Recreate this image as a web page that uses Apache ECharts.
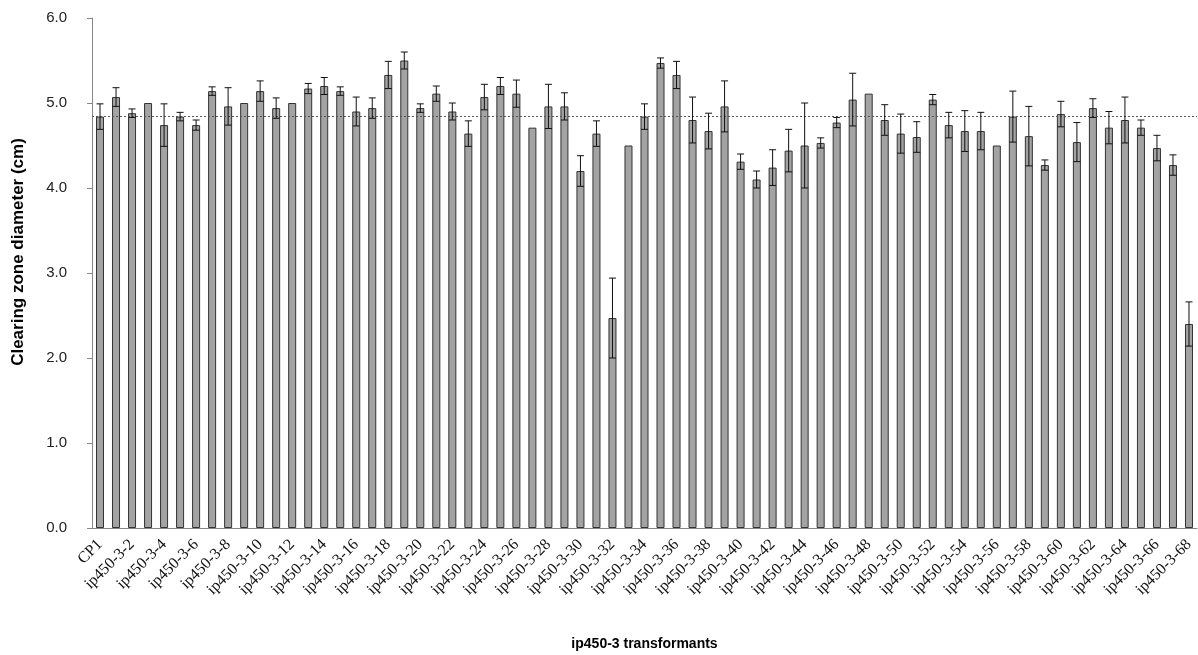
<!DOCTYPE html>
<html>
<head>
<meta charset="utf-8">
<script src="https://cdn.jsdelivr.net/npm/echarts@6/dist/echarts.min.js"></script>
<style>
  html, body { margin: 0; padding: 0; background: #fff; }
  #chart { width: 1198px; height: 655px; }
</style>
</head>
<body>
<div id="chart"></div>
<script>
const categories = [
  'CP1','ip450-3-1','ip450-3-2','ip450-3-3','ip450-3-4','ip450-3-5','ip450-3-6','ip450-3-7','ip450-3-8','ip450-3-9',
  'ip450-3-10','ip450-3-11','ip450-3-12','ip450-3-13','ip450-3-14','ip450-3-15','ip450-3-16','ip450-3-17','ip450-3-18','ip450-3-19',
  'ip450-3-20','ip450-3-21','ip450-3-22','ip450-3-23','ip450-3-24','ip450-3-25','ip450-3-26','ip450-3-27','ip450-3-28','ip450-3-29',
  'ip450-3-30','ip450-3-31','ip450-3-32','ip450-3-33','ip450-3-34','ip450-3-35','ip450-3-36','ip450-3-37','ip450-3-38','ip450-3-39',
  'ip450-3-40','ip450-3-41','ip450-3-42','ip450-3-43','ip450-3-44','ip450-3-45','ip450-3-46','ip450-3-47','ip450-3-48','ip450-3-49',
  'ip450-3-50','ip450-3-51','ip450-3-52','ip450-3-53','ip450-3-54','ip450-3-55','ip450-3-56','ip450-3-57','ip450-3-58','ip450-3-59',
  'ip450-3-60','ip450-3-61','ip450-3-62','ip450-3-63','ip450-3-64','ip450-3-65','ip450-3-66','ip450-3-67','ip450-3-68'
];
const means = [
  4.84, 5.07, 4.88, 5.00, 4.74, 4.84, 4.74, 5.14, 4.96, 5.00,
  5.14, 4.94, 5.00, 5.17, 5.20, 5.14, 4.90, 4.94, 5.33, 5.50,
  4.94, 5.11, 4.90, 4.64, 5.07, 5.20, 5.11, 4.71, 4.96, 4.96,
  4.20, 4.64, 2.47, 4.50, 4.84, 5.47, 5.33, 4.80, 4.67, 4.96,
  4.31, 4.10, 4.24, 4.44, 4.50, 4.53, 4.77, 5.04, 5.11, 4.80,
  4.64, 4.60, 5.04, 4.74, 4.67, 4.67, 4.50, 4.84, 4.61, 4.27,
  4.87, 4.54, 4.94, 4.71, 4.80, 4.71, 4.47, 4.27, 2.40
];
const errors = [
  0.15, 0.11, 0.05, null, 0.25, 0.05, 0.06, 0.05, 0.22, null,
  0.12, 0.12, null, 0.06, 0.10, 0.05, 0.17, 0.12, 0.16, 0.10,
  0.05, 0.09, 0.10, 0.15, 0.15, 0.10, 0.16, null, 0.26, 0.16,
  0.18, 0.15, 0.47, null, 0.15, 0.06, 0.16, 0.27, 0.21, 0.30,
  0.09, 0.10, 0.21, 0.25, 0.50, 0.06, 0.06, 0.31, null, 0.18,
  0.23, 0.18, 0.06, 0.15, 0.24, 0.22, null, 0.30, 0.35, 0.06,
  0.15, 0.23, 0.11, 0.19, 0.27, 0.09, 0.15, 0.12, 0.26
];
const referenceValue = 4.84;
const yTicks = [0, 1, 2, 3, 4, 5, 6];
const xTitle = 'ip450-3 transformants';
const yTitle = 'Clearing zone diameter (cm)';

const errData = [];
for (let i = 0; i < means.length; i++) {
  if (errors[i] != null) errData.push([i, means[i] - errors[i], means[i] + errors[i]]);
}

const chart = echarts.init(document.getElementById('chart'), null, { renderer: 'canvas' });
chart.setOption({
  animation: false,
  backgroundColor: '#ffffff',
  grid: { left: 92, right: 1, top: 18, bottom: 127, containLabel: false, outerBoundsMode: 'none' },
  graphic: [
    {
      type: 'text',
      x: 18, y: 252,
      rotation: Math.PI / 2,
      style: {
        text: yTitle,
        fontFamily: 'Liberation Sans, Arial',
        fontWeight: 'bold',
        fontSize: 17,
        fill: '#000',
        align: 'center',
        verticalAlign: 'middle'
      }
    }
  ],
  xAxis: {
    type: 'category',
    data: categories,
    name: xTitle,
    nameLocation: 'middle',
    nameGap: 109,
    nameTextStyle: { fontFamily: 'Liberation Sans, Arial', fontWeight: 'bold', fontSize: 14, color: '#000' },
    axisLine: { show: true, lineStyle: { color: '#888', width: 1 } },
    axisTick: { show: false },
    axisLabel: {
      interval: 1,
      rotate: 45,
      margin: 14,
      fontFamily: 'Liberation Serif, Times New Roman, serif',
      fontSize: 16,
      color: '#111'
    }
  },
  yAxis: {
    type: 'value',
    min: yTicks[0],
    max: yTicks[yTicks.length - 1],
    interval: 1,
    axisLine: { show: true, lineStyle: { color: '#888', width: 1 } },
    axisTick: { show: true, length: 5, lineStyle: { color: '#888' } },
    splitLine: { show: false },
    axisLabel: {
      formatter: v => v.toFixed(1),
      margin: 25,
      fontFamily: 'Liberation Sans, Arial',
      fontSize: 15,
      color: '#222'
    }
  },
  series: [
    {
      type: 'bar',
      data: means,
      barWidth: '50%',
      itemStyle: { color: '#a3a3a3', borderColor: '#333', borderWidth: 1 },
      markLine: {
        silent: true,
        symbol: ['none', 'none'],
        label: { show: false },
        lineStyle: { type: [2, 2], color: '#555', width: 1 },
        data: [{ yAxis: referenceValue }]
      },
      z: 2
    },
    {
      type: 'custom',
      data: errData,
      z: 5,
      renderItem: function (params, api) {
        const x = api.value(0);
        const lo = api.coord([x, api.value(1)]);
        const hi = api.coord([x, api.value(2)]);
        const cap = 3.5;
        const style = { stroke: '#111', lineWidth: 1 };
        return {
          type: 'group',
          children: [
            { type: 'line', shape: { x1: hi[0], y1: hi[1], x2: lo[0], y2: lo[1] }, style },
            { type: 'line', shape: { x1: hi[0] - cap, y1: hi[1], x2: hi[0] + cap, y2: hi[1] }, style },
            { type: 'line', shape: { x1: lo[0] - cap, y1: lo[1], x2: lo[0] + cap, y2: lo[1] }, style }
          ]
        };
      }
    }
  ]
});
</script>
</body>
</html>
